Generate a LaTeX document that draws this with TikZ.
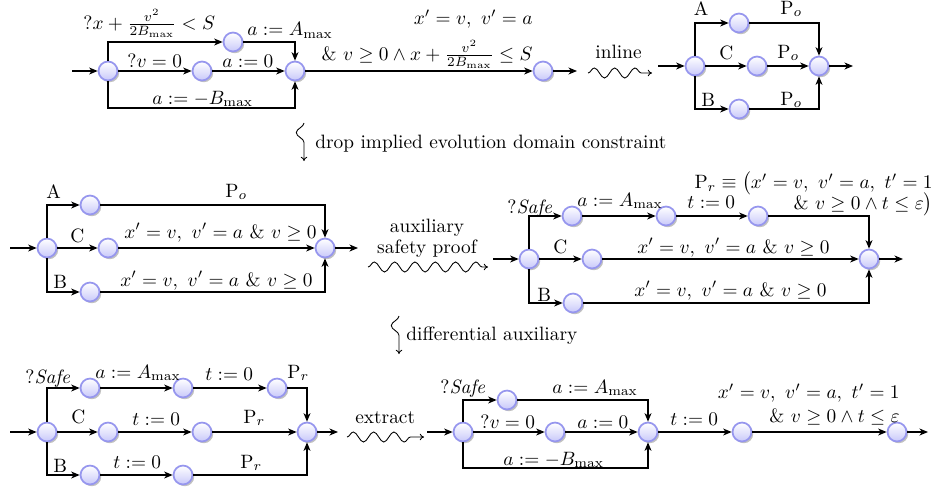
\documentclass[tikz,border=0pt]{standalone}
\usepackage{amsmath,amssymb}
\usepackage{tikz}
\usetikzlibrary{arrows.meta,shadows,decorations.pathmorphing}
\definecolor{ballfill}{RGB}{200,200,250}
\definecolor{ballrim}{RGB}{150,150,238}
\tikzset{
  st/.style={circle, draw=ballrim, line width=0.9pt, top color=white, bottom color=ballfill, minimum size=9.8pt, inner sep=0pt, drop shadow={shadow xshift=0.9pt, shadow yshift=-0.9pt, opacity=0.35, fill=black!70}},
  lbl/.style={inner sep=0pt, anchor=base west},
  lble/.style={inner sep=0pt, anchor=base east},
  lblc/.style={inner sep=0pt, anchor=base},
  arr/.style={-{Stealth[length=4.4pt,width=3.6pt,inset=1.3pt]}, line width=0.6pt},
  snk/.style={-{To[length=2.2pt,width=3.4pt]}, line width=0.45pt, decorate, decoration={snake, amplitude=2.6pt, segment length=10.5pt, post length=2.5pt}},
  vsnk/.style={snk, decoration={snake, amplitude=4pt, segment length=16pt, post length=2.5pt, mirror}},
}

\begin{document}
\begin{tikzpicture}[x=0.5173pt, y=-0.5173pt]
  \useasboundingbox (0,0) rectangle (937,495);
  \foreach \n/\x/\y in {p1s/108/71, p1a/233/42, p1v/202/71, p1j/295/71, p1e/543/71,
      q1s/695/66, q1a/739/23, q1c/757/66, q1b/739/109, q1j/819/66,
      p2s/47/248, p2a/90/205, p2c/108/248, p2b/90/292, p2j/325/248,
      q2s/529/259, q2a/572/216, q2m/666/216, q2t/758/216, q2c/592/259, q2b/573/303, q2j/869/259,
      p3s/47/432, p3a/90/388, p3m/183/388, p3r/277/388, p3c/108/432, p3t/202/432, p3b/90/475, p3u/183/475, p3j/307/432,
      q3s/463/432, q3a/507/400, q3v/555/432, q3j/648/432, q3t/742/432, q3e/897/432}{
    \node[st] (\n) at (\x,\y) {};
  }
  \foreach \n/\x/\y in {i1/72/71, o1/577/71, p1b/200/108, i2/658/66, o2/853/66,
      i3/10/248, o3/358/248, i4/493/259, o4/903/259, i5/10/432, o5/338/432,
      i6/427/432, o6/928/432, q3b/555/468,
      s1a/588/73, s1b/652/73, s2a/304/123, s2b/304/161, s3a/368/267, s3b/488/267,
      s4a/399/316, s4b/399/354, s5a/347/437, s5b/424/437}{
    \coordinate (\n) at (\x,\y);
  }
  \foreach \a/\b in {i1/p1s, p1s/p1v, p1v/p1j, p1j/p1e, p1e/o1, i2/q1s, q1s/q1c, q1c/q1j, q1j/o2,
      i3/p2s, p2s/p2c, p2c/p2j, p2j/o3, i4/q2s, q2s/q2c, q2c/q2j, q2j/o4, q2a/q2m, q2m/q2t,
      i5/p3s, p3s/p3c, p3c/p3t, p3t/p3j, p3j/o5, p3a/p3m, p3m/p3r, p3b/p3u,
      i6/q3s, q3s/q3v, q3v/q3j, q3j/q3t, q3t/q3e, q3e/o6}{\draw[arr] (\a) -- (\b);}
  \foreach \a/\b in {p1s/p1a, q1s/q1a, q1s/q1b, p2s/p2a, p2s/p2b, q2s/q2a, q2s/q2b, p3s/p3a, p3s/p3b, q3s/q3a}{\draw[arr] (\a) |- (\b);}
  \foreach \a/\b in {p1a/p1j, q1a/q1j, q1b/q1j, p2a/p2j, p2b/p2j, q2t/q2j, q2b/q2j, p3r/p3j, p3u/p3j, q3a/q3j}{\draw[arr] (\a) -| (\b);}
  \draw[arr] (p1s) |- (p1b) -| (p1j);
  \draw[arr] (q3s) |- (q3b) -| (q3j);
  \foreach \a/\b in {s1a/s1b, s3a/s3b, s5a/s5b}{\draw[snk] (\a) -- (\b);}
  \foreach \a/\b in {s2a/s2b, s4a/s4b}{\draw[vsnk] (\a) -- (\b);}

  \node[lbl] (t1g) at (83,29) {$?x+\frac{v^2}{2B_{\max}}<S$};
  \node[lbl] (t1a) at (247,35.5) {$a:=A_{\max}$};
  \node[lbl] (t1v) at (127,67) {$?v=0$};
  \node[lbl] (t1z) at (222,67) {$a:=0$};
  \node[lbl] (t1b) at (152,104) {$a:=-B_{\max}$};
  \node[lble, align=right] (t1o) at (533,60) {$x'=v,\ v'=a$\\[5pt]$\&\ v\geq0\land x+\frac{v^2}{2B_{\max}}\leq S$};
  \node[lbl] (t1i) at (595,58) {inline};
  \node[lblc] (u1a) at (701,15) {A};
  \node[lbl] (u1ap) at (780,14) {P$_o$};
  \node[lbl] (u1c) at (719,59) {C};
  \node[lbl] (u1cp) at (777,58) {P$_o$};
  \node[lbl] (u1b) at (701,106) {B};
  \node[lbl] (u1bp) at (780,105) {P$_o$};
  \node[lbl] (d1) at (315,148) {drop implied evolution domain constraint};

  \node[lbl] (t2a) at (46,198) {A};
  \node[lbl] (t2ap) at (225,197) {P$_o$};
  \node[lbl] (t2c) at (70,242) {C};
  \node[lble] (t2cp) at (317,238) {$x'=v,\ v'=a\ \&\ v\geq0$};
  \node[lbl] (t2b) at (53,288) {B};
  \node[lble] (t2bp) at (313,286) {$x'=v,\ v'=a\ \&\ v\geq0$};
  \node[lblc, align=center] (t2x) at (427,253) {auxiliary\\[-1.2pt]safety proof};
  \node[lbl] (u2s) at (507,213) {$?\mathit{Safe}$};
  \node[lbl] (u2a) at (577,206) {$a:=A_{\max}$};
  \node[lbl] (u2t) at (687,208) {$t:=0$};
  \node[lble, align=right] (u2r) at (933,209) {$\mathrm{P}_r\equiv\big(x'=v,\ v'=a,\ t'=1$\\[-2.3pt]$\&\ v\geq0\land t\leq\varepsilon\big)$};
  \node[lbl] (u2c) at (553,253) {C};
  \node[lble] (u2cp) at (830,253) {$x'=v,\ v'=a\ \&\ v\geq0$};
  \node[lbl] (u2b) at (537,301) {B};
  \node[lble] (u2bp) at (827,296) {$x'=v,\ v'=a\ \&\ v\geq0$};
  \node[lbl] (d2) at (406,340) {differential auxiliary};

  \node[lbl] (t3s) at (25,383) {$?\mathit{Safe}$};
  \node[lbl] (t3a) at (95,378) {$a:=A_{\max}$};
  \node[lbl] (t3t) at (205,380) {$t:=0$};
  \node[lbl] (t3r) at (287,378) {P$_r$};
  \node[lbl] (t3c) at (71,423) {C};
  \node[lbl] (t3ct) at (132,425) {$t:=0$};
  \node[lbl] (t3cr) at (243,423) {P$_r$};
  \node[lbl] (t3b) at (53,472) {B};
  \node[lbl] (t3bt) at (113,468) {$t:=0$};
  \node[lbl] (t3br) at (240,468) {P$_r$};
  \node[lbl] (t3x) at (355,423) {extract};
  \node[lbl] (u3s) at (440,393) {$?\mathit{Safe}$};
  \node[lbl] (u3a) at (552,393) {$a:=A_{\max}$};
  \node[lbl] (u3v) at (480,428) {$?v=0$};
  \node[lbl] (u3z) at (577,428) {$a:=0$};
  \node[lbl] (u3b) at (503,465) {$a:=-B_{\max}$};
  \node[lbl] (u3t) at (670,425) {$t:=0$};
  \node[lble, align=right] (u3o) at (900,422) {$x'=v,\ v'=a,\ t'=1$\\$\&\ v\geq0\land t\leq\varepsilon$};
\end{tikzpicture}
\end{document}
